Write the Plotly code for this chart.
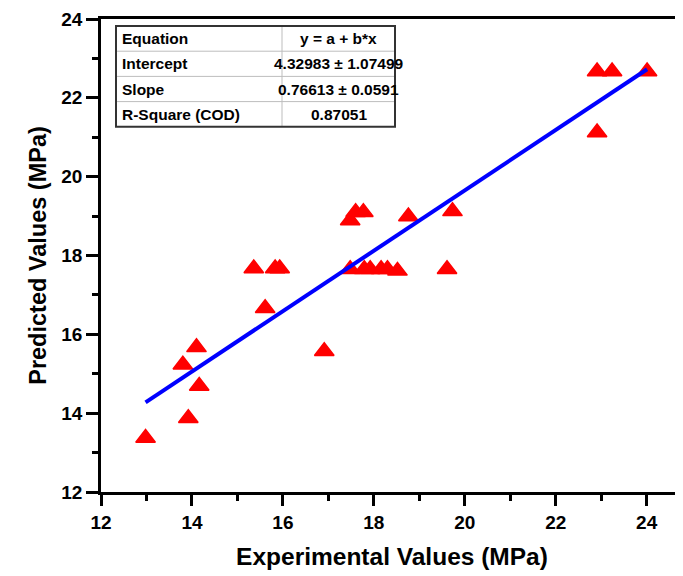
import plotly.graph_objects as go

# ---- data ----
exp_values = [12.98, 13.92, 13.80, 14.10, 14.16, 15.36, 15.61, 15.83, 15.93, 16.91,
              17.48, 17.60, 17.77, 18.76, 19.73,
              17.48, 17.79, 17.92, 18.16, 18.30, 18.52, 19.61,
              22.91, 22.91, 23.24, 24.01]
pred_values = [13.37, 13.87, 15.23, 15.67, 14.69, 17.67, 16.66, 17.67, 17.67, 15.57,
               18.89, 19.10, 19.10, 18.99, 19.12,
               17.65, 17.65, 17.65, 17.65, 17.65, 17.61, 17.65,
               22.67, 21.12, 22.67, 22.67]
intercept = 4.32983
slope = 0.76613
table_labels = ["Equation", "Intercept", "Slope", "R-Square (COD)"]
table_values = ["y = a + b*x", "4.32983 \u00b1 1.07499", "0.76613 \u00b1 0.0591", "0.87051"]
x_ticks = [12, 14, 16, 18, 20, 22, 24]
y_ticks = [12, 14, 16, 18, 20, 22, 24]

FONT = "Liberation Sans, Arial, sans-serif"
OFF = 8  # page body margin
W, H = 683 - OFF, 576 - OFF
ML, MR, MT, MB = 93, 0, 11, 84

fit_x = [min(exp_values), max(exp_values)]
fit_y = [intercept + slope * v for v in fit_x]

fig = go.Figure()
fig.add_trace(go.Scatter(
    x=exp_values, y=pred_values, mode="markers",
    marker=dict(symbol="triangle-up", size=17, color="#FF0000",
                line=dict(color="#FF0000", width=1.5)),
    showlegend=False))
fig.add_trace(go.Scatter(
    x=fit_x, y=fit_y, mode="lines",
    line=dict(color="#0000FF", width=4), showlegend=False))

def px(x):
    return (x - OFF - ML) / (W - ML - MR)

def py(y):
    return (H - MB - (y - OFF)) / (H - MT - MB)

# table (screen pixel positions)
tx0, tx1, tcol = 116, 395, 282
ty0, row_h = 26, 25.2
shapes = []
for i in range(1, len(table_labels)):
    yy = ty0 + i * row_h
    shapes.append(dict(type="line", xref="paper", yref="paper",
                       x0=px(tx0), x1=px(tx1), y0=py(yy), y1=py(yy),
                       line=dict(color="#BDBDBD", width=1)))
shapes.append(dict(type="line", xref="paper", yref="paper",
                   x0=px(tcol), x1=px(tcol), y0=py(ty0), y1=py(ty0 + 4 * row_h),
                   line=dict(color="#BDBDBD", width=1)))
shapes.append(dict(type="rect", xref="paper", yref="paper",
                   x0=px(tx0), x1=px(tx1), y0=py(ty0), y1=py(ty0 + 4 * row_h),
                   line=dict(color="#333333", width=2), fillcolor="rgba(0,0,0,0)"))

annotations = []
for i, (lab, val) in enumerate(zip(table_labels, table_values)):
    yc = ty0 + (i + 0.5) * row_h
    annotations.append(dict(xref="paper", yref="paper", x=px(tx0 + 4), y=py(yc),
                            xanchor="left", yanchor="middle", showarrow=False, text=lab,
                            font=dict(family=FONT, size=15.5, color="black", weight="bold")))
    annotations.append(dict(xref="paper", yref="paper", x=px((tcol + tx1) / 2), y=py(yc),
                            xanchor="center", yanchor="middle", showarrow=False, text=val,
                            font=dict(family=FONT, size=15.5, color="black", weight="bold")))

fig.update_layout(
    width=W, height=H,
    margin=dict(l=ML, r=MR, t=MT, b=MB, autoexpand=False),
    paper_bgcolor="white", plot_bgcolor="white",
    font=dict(family=FONT, color="black"),
    shapes=shapes, annotations=annotations,
    xaxis=dict(range=[12, 12 + (W - ML - MR) / 45.47], tickvals=x_ticks,
               ticktext=[str(t) for t in x_ticks], automargin=False,
               ticklabeloverflow="allow",
               showgrid=False, zeroline=False,
               showline=True, linecolor="black", linewidth=2.5, mirror=True,
               ticks="outside", ticklen=11, tickwidth=2.5, tickcolor="black",
               minor=dict(ticks="outside", ticklen=6, tickwidth=2.5, tickcolor="black",
                          tickvals=[13, 15, 17, 19, 21, 23]),
               tickfont=dict(family=FONT, size=19, weight="bold"),
               title=dict(text="Experimental Values (MPa)", standoff=17,
                          font=dict(family=FONT, size=24.5, weight="bold"))),
    yaxis=dict(range=[12, 24], tickvals=y_ticks,
               ticktext=[str(t) for t in y_ticks], automargin=False,
               ticklabeloverflow="allow",
               showgrid=False, zeroline=False,
               showline=True, linecolor="black", linewidth=2.5,
               ticks="outside", ticklen=12, tickwidth=2.5, tickcolor="black",
               minor=dict(ticks="outside", ticklen=6, tickwidth=2.5, tickcolor="black",
                          tickvals=[13, 15, 17, 19, 21, 23]),
               tickfont=dict(family=FONT, size=19, weight="bold"),
               title=dict(text="Predicted Values (MPa)", standoff=9,
                          font=dict(family=FONT, size=23.5, weight="bold"))),
)

fig.write_html("out.html")
